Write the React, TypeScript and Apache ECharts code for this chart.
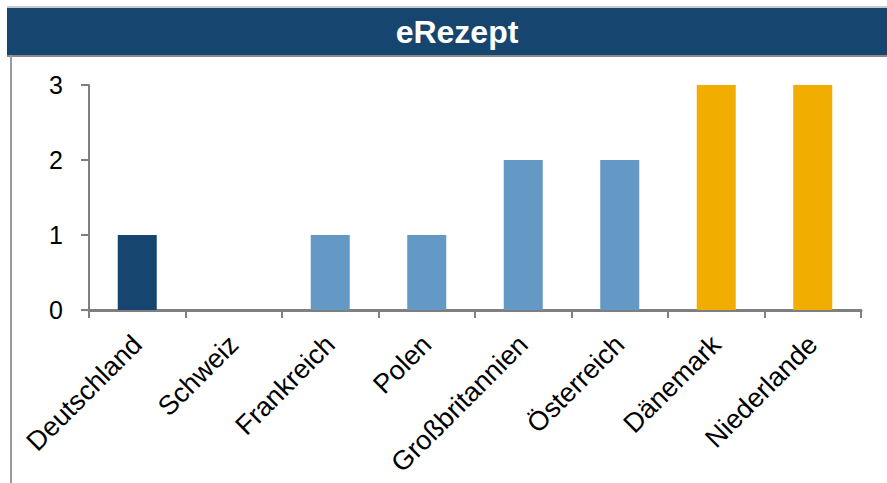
import React, { useEffect, useRef } from "react";
import * as echarts from "echarts";

const title = "eRezept";
const categories = [
  "Deutschland",
  "Schweiz",
  "Frankreich",
  "Polen",
  "Großbritannien",
  "Österreich",
  "Dänemark",
  "Niederlande",
];
const values = [1, 0, 1, 1, 2, 2, 3, 3];
// group of each country: 0 = Deutschland, 1 = mittel, 2 = führend
const groups = [0, 1, 1, 1, 1, 1, 2, 2];
const yTicks = [0, 1, 2, 3];

const groupColors = ["#16466f", "#6399c4", "#f2ae00"];
const FONT = "'Liberation Sans', Arial, sans-serif";

export default function App() {
  const ref = useRef<HTMLDivElement>(null);
  useEffect(() => {
    if (!ref.current) return;
    const chart = echarts.init(ref.current, undefined, { renderer: "svg" });
    chart.setOption({
      animation: false,
      backgroundColor: "#ffffff",
      graphic: [
        { type: "rect", shape: { x: 7, y: 6, width: 880, height: 2 }, style: { fill: "#c8ccd2" }, z: 1 },
        { type: "rect", shape: { x: 7, y: 8, width: 880, height: 47 }, style: { fill: "#16466f" }, z: 1 },
        { type: "rect", shape: { x: 7, y: 55, width: 880, height: 2 }, style: { fill: "#8a8a8a" }, z: 1 },
        { type: "rect", shape: { x: 10, y: 55, width: 2, height: 428 }, style: { fill: "#9a9a9a" }, z: 1 },
        {
          type: "text",
          x: 457,
          y: 32,
          style: {
            text: title,
            fill: "#ffffff",
            font: `bold 32px ${FONT}`,
            align: "center",
            verticalAlign: "middle",
          },
          z: 2,
        },
      ],
      grid: { left: 89, right: 26, top: 85, bottom: 173 },
      xAxis: {
        type: "category",
        data: categories,
        axisLine: { show: true, lineStyle: { color: "#7f7f7f", width: 3 } },
        axisTick: { show: true, length: 8, alignWithLabel: false, lineStyle: { color: "#7f7f7f", width: 2 } },
        axisLabel: {
          rotate: 45,
          interval: 0,
          margin: 30,
          color: "#000000",
          fontSize: 27,
          fontFamily: FONT,
        },
      },
      yAxis: {
        type: "value",
        min: yTicks[0],
        max: yTicks[yTicks.length - 1],
        interval: 1,
        splitLine: { show: false },
        axisLine: { show: true, lineStyle: { color: "#7f7f7f", width: 2 } },
        axisTick: { show: true, length: 8, lineStyle: { color: "#7f7f7f", width: 2 } },
        axisLabel: { margin: 26, color: "#000000", fontSize: 25, fontFamily: FONT },
      },
      series: [
        {
          type: "bar",
          barWidth: 39,
          data: values.map((v, i) => ({ value: v, itemStyle: { color: groupColors[groups[i]] } })),
        },
      ],
    });
    return () => chart.dispose();
  }, []);
  return (
    <div
      ref={ref}
      style={{ position: "fixed", left: 0, top: 0, width: 887, height: 483 }}
    />
  );
}
